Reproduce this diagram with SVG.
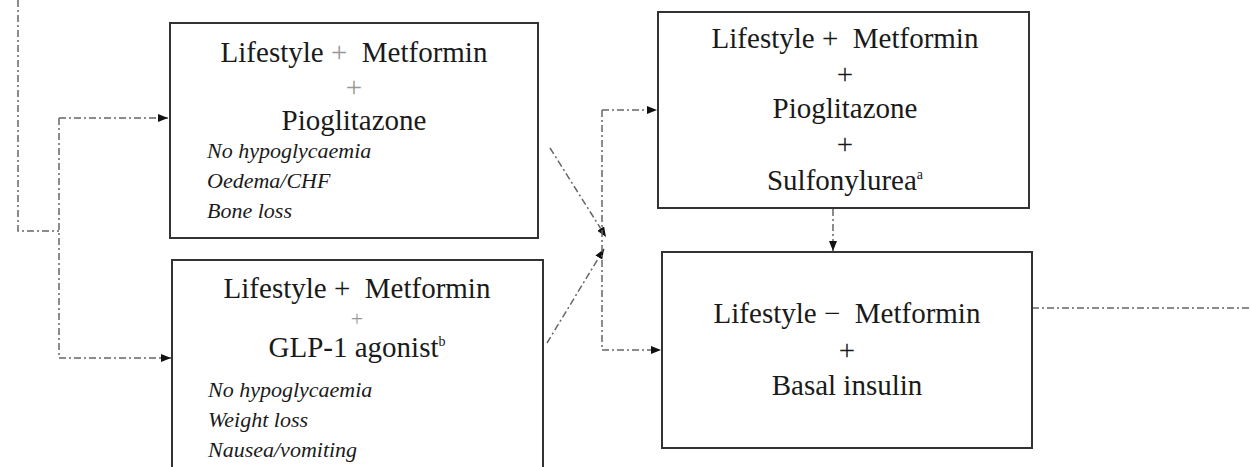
<svg xmlns="http://www.w3.org/2000/svg" width="1250" height="467" viewBox="0 0 1250 467">
<style>
.box{fill:#fff;stroke:#333;stroke-width:2}
.t{font-family:"Liberation Serif","DejaVu Serif",serif;font-size:29px;fill:#1a1a1a;text-anchor:middle}
.i{font-family:"Liberation Serif","DejaVu Serif",serif;font-size:22px;font-style:italic;fill:#1a1a1a}
.sup{font-size:14px}
.faint{fill:#999}
.sm{font-size:22px}
.c{fill:none;stroke:#666;stroke-width:1.5;stroke-dasharray:7 3 2 3}
</style>
<defs>
<marker id="ah" markerUnits="userSpaceOnUse" markerWidth="11" markerHeight="9" refX="10" refY="4" orient="auto">
<path d="M0,0 L10,4 L0,8 z" fill="#111"/>
</marker>
</defs>
<g id="connectors">
<path class="c" d="M18,0 V231 H59"/>
<path class="c" d="M59,118 V358"/>
<path class="c" d="M59,118 H168" marker-end="url(#ah)"/>
<path class="c" d="M59,358 H171" marker-end="url(#ah)"/>
<path class="c" d="M550,148 L606,237" marker-end="url(#ah)"/>
<path class="c" d="M547,343 L604,249" marker-end="url(#ah)"/>
<path class="c" d="M602,110 V350"/>
<path class="c" d="M602,110 H657" marker-end="url(#ah)"/>
<path class="c" d="M602,350 H661" marker-end="url(#ah)"/>
<path class="c" d="M833,209 V251" marker-end="url(#ah)"/>
<path class="c" d="M1032,308 H1250"/>
</g>
<g id="node-pioglitazone">
<rect class="box" x="170" y="23" width="368" height="215"/>
<text class="t" x="354" y="62" xml:space="preserve">Lifestyle <tspan class="faint">+</tspan>  Metformin</text>
<text class="t faint" x="354" y="97">+</text>
<text class="t" x="354" y="130">Pioglitazone</text>
<text class="i" x="207" y="158">No hypoglycaemia</text>
<text class="i" x="207" y="188">Oedema/CHF</text>
<text class="i" x="207" y="218">Bone loss</text>
</g>
<g id="node-glp1">
<rect class="box" x="172" y="260" width="371" height="222"/>
<text class="t" x="357" y="298" xml:space="preserve">Lifestyle +  Metformin</text>
<text class="t faint sm" x="357" y="326">+</text>
<text class="t" x="357" y="357">GLP-1 agonist<tspan class="sup" dy="-11">b</tspan></text>
<text class="i" x="208" y="397">No hypoglycaemia</text>
<text class="i" x="208" y="427">Weight loss</text>
<text class="i" x="208" y="457">Nausea/vomiting</text>
</g>
<g id="node-sulfonylurea">
<rect class="box" x="658" y="12" width="371" height="196"/>
<text class="t" x="845" y="48" xml:space="preserve">Lifestyle +  Metformin</text>
<text class="t" x="845" y="84">+</text>
<text class="t" x="845" y="118">Pioglitazone</text>
<text class="t" x="845" y="154">+</text>
<text class="t" x="845" y="190">Sulfonylurea<tspan class="sup" dy="-11">a</tspan></text>
</g>
<g id="node-basal-insulin">
<rect class="box" x="662" y="252" width="370" height="196"/>
<text class="t" x="847" y="323" xml:space="preserve">Lifestyle −  Metformin</text>
<text class="t" x="847" y="360">+</text>
<text class="t" x="847" y="395">Basal insulin</text>
</g>
</svg>
